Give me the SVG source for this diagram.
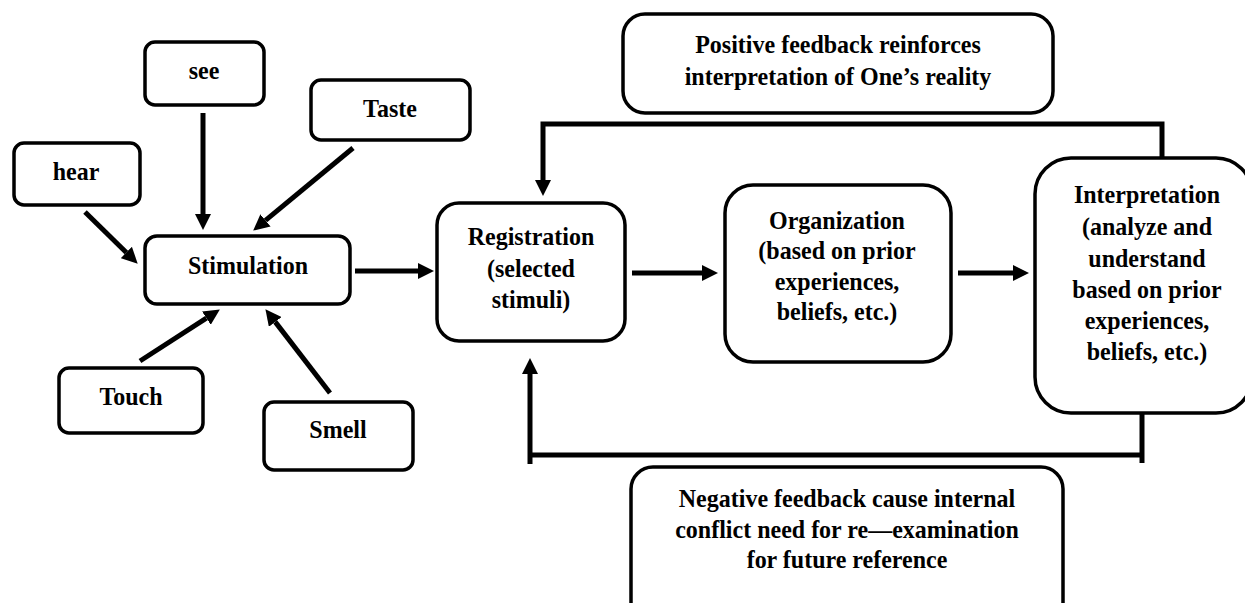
<svg xmlns="http://www.w3.org/2000/svg" width="1245" height="603" viewBox="0 0 1245 603">
<style>
.box{fill:#fff;stroke:#000;stroke-width:3.5}
.t{font-family:"Liberation Serif","Times New Roman",serif;font-weight:bold;font-size:24px;fill:#000;text-anchor:middle}
.c{fill:none;stroke:#000;stroke-width:5}
</style>
<defs>
<marker id="ah" markerUnits="userSpaceOnUse" markerWidth="16" markerHeight="16" refX="0" refY="7.5" orient="auto" viewBox="0 0 15 15">
<path d="M0,0 L15,7.5 L0,15 z" fill="#000"/>
</marker>
</defs>
<rect width="1245" height="603" fill="#fff"/>
<g id="connectors">
<line class="c" x1="203" y1="113" x2="203" y2="214" marker-end="url(#ah)"/>
<line class="c" x1="353" y1="148" x2="265.5" y2="220.4" marker-end="url(#ah)"/>
<line class="c" x1="85" y1="212" x2="126.3" y2="252.5" marker-end="url(#ah)"/>
<line class="c" x1="140" y1="361" x2="206.4" y2="318.1" marker-end="url(#ah)"/>
<line class="c" x1="330" y1="393" x2="275.2" y2="321.9" marker-end="url(#ah)"/>
<line class="c" x1="355" y1="271" x2="418" y2="271" marker-end="url(#ah)"/>
<line class="c" x1="632" y1="273" x2="702" y2="273" marker-end="url(#ah)"/>
<line class="c" x1="958" y1="273" x2="1013" y2="273" marker-end="url(#ah)"/>
<polyline class="c" points="1162,158 1162,124 543,124 543,180" marker-end="url(#ah)"/>
<line class="c" x1="1142" y1="413" x2="1142" y2="463"/>
<line class="c" x1="530" y1="455" x2="1142" y2="455"/>
<line class="c" x1="530" y1="464" x2="530" y2="374" marker-end="url(#ah)"/>
</g>
<g id="see"><rect class="box" x="145" y="42" width="119" height="63" rx="10"/><text class="t" transform="translate(204,79) scale(1,1.08)">see</text></g>
<g id="taste"><rect class="box" x="311" y="80" width="159" height="60" rx="10"/><text class="t" transform="translate(390,117) scale(1,1.08)">Taste</text></g>
<g id="hear"><rect class="box" x="14" y="143" width="126" height="62" rx="10"/><text class="t" transform="translate(76,180) scale(1,1.08)">hear</text></g>
<g id="stimulation"><rect class="box" x="145" y="236" width="205" height="68" rx="12"/><text class="t" transform="translate(248,274) scale(1,1.08)">Stimulation</text></g>
<g id="touch"><rect class="box" x="59" y="368" width="144" height="65" rx="10"/><text class="t" transform="translate(131,405) scale(1,1.08)">Touch</text></g>
<g id="smell"><rect class="box" x="264" y="402" width="149" height="68" rx="10"/><text class="t" transform="translate(338,438) scale(1,1.08)">Smell</text></g>
<g id="positive"><rect class="box" x="623" y="14" width="430" height="99" rx="22"/><text class="t" transform="translate(838,53) scale(1,1.08)">Positive feedback reinforces</text><text class="t" transform="translate(838,85) scale(1,1.08)">interpretation of One’s reality</text></g>
<g id="registration"><rect class="box" x="437" y="203" width="188" height="138" rx="22"/><text class="t" transform="translate(531,245) scale(1,1.08)">Registration</text><text class="t" transform="translate(531,277) scale(1,1.08)">(selected</text><text class="t" transform="translate(531,308) scale(1,1.08)">stimuli)</text></g>
<g id="organization"><rect class="box" x="725" y="185" width="226" height="177" rx="28"/><text class="t" transform="translate(837,229) scale(1,1.08)">Organization</text><text class="t" transform="translate(837,259) scale(1,1.08)">(based on prior</text><text class="t" transform="translate(837,290) scale(1,1.08)">experiences,</text><text class="t" transform="translate(837,320) scale(1,1.08)">beliefs, etc.)</text></g>
<g id="interpretation"><rect class="box" x="1035" y="158" width="217" height="255" rx="36"/><text class="t" transform="translate(1147,203) scale(1,1.08)">Interpretation</text><text class="t" transform="translate(1147,235) scale(1,1.08)">(analyze and</text><text class="t" transform="translate(1147,267) scale(1,1.08)">understand</text><text class="t" transform="translate(1147,298) scale(1,1.08)">based on prior</text><text class="t" transform="translate(1147,329) scale(1,1.08)">experiences,</text><text class="t" transform="translate(1147,360) scale(1,1.08)">beliefs, etc.)</text></g>
<g id="negative"><rect class="box" x="631" y="467" width="432" height="160" rx="22"/><text class="t" transform="translate(847,507) scale(1,1.08)">Negative feedback cause internal</text><text class="t" transform="translate(847,538) scale(1,1.08)">conflict need for re—examination</text><text class="t" transform="translate(847,568) scale(1,1.08)">for future reference</text></g>
</svg>
